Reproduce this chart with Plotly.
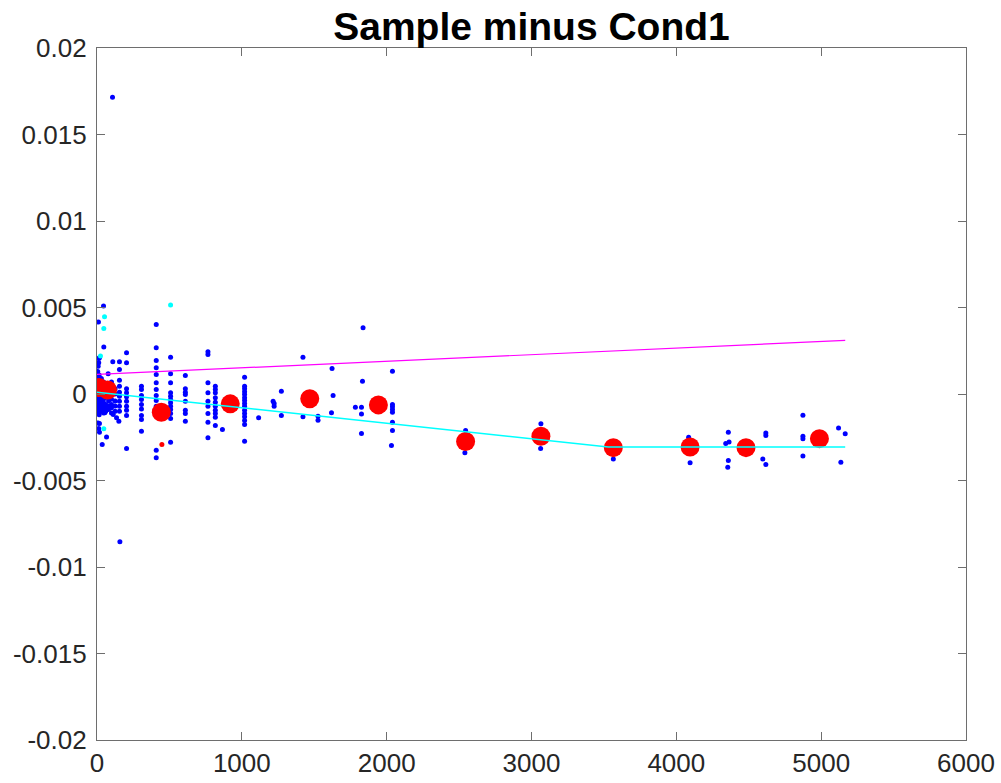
import plotly.graph_objects as go

# ---- blue scatter points (x in x-units, y values) ----
blue_x = []
blue_y = []

def add_col(x, ys):
    for v in ys:
        blue_x.append(x)
        blue_y.append(v)

# dense cluster close to x = 0
cluster = {
    5:   [0.0013, 0.0009, 0.0006, 0.0004, 0.0002, 0.0, -0.0002, -0.0004, -0.0006, -0.0008, -0.001],
    15:  [0.0011, 0.0008, 0.0005, 0.0001, -0.0001, -0.0003, -0.0005, -0.0007, -0.0009, -0.0012],
    30:  [0.0009, 0.0003, -0.0002, -0.0004, -0.0006, -0.0008, -0.001],
    45:  [0.0007, -0.0003, -0.0005, -0.0007, -0.0009, -0.0011],
    60:  [0.0006, -0.0002, -0.0006, -0.0008, -0.001],
    80:  [0.0005, 0.0001, -0.0004, -0.0007, -0.0009],
    100: [0.0007, 0.0004, 0.0001, -0.0003, -0.0006, -0.0008, -0.0011],
    125: [0.0003, 0.0, -0.0004, -0.0007, -0.001],
}
for cx, ys in cluster.items():
    add_col(cx, ys)

# scattered points
extra_x = [45, 10, 17, 12, 12, 8, 77, 47, 54, 8, 12, 17, 17, 66, 36, 107, 109, 112, 135, 151, 158, 866, 1116,
           1216, 1223, 1223, 1273, 1273, 1422, 1422, 1526, 1526, 1623, 1630, 1619, 1837, 1833, 1784, 1826,
           1826, 1826, 2040, 2040, 2040, 2040, 2040, 2040, 2040, 2033, 2545, 2540, 3065, 3063, 3565,
           4085, 4095, 4359, 4341, 4364, 4359, 4355, 4618, 4618, 4597, 4618, 4874, 4874, 4874, 4874,
           5120, 5166, 5136]
extra_y = [0.00508, 0.00416, 0.00209, 0.00205, 0.0018, 0.00161, 0.00117, 0.00271, -0.00109, -0.00167, -0.002,
           -0.00171, -0.00221, -0.00248, -0.00292, 0.01716, 0.00186, -0.00119, -0.00138, -0.00157, -0.00854,
           -0.00205, -0.00138, -0.00042, -0.00055, -0.00071, 0.00016, -0.00124, 0.00213, -0.00132, -0.00128,
           -0.00152, 0.00148, -0.00009, -0.00109, 0.00383, 0.00074, -0.00076, -0.00076, -0.00115, -0.00229,
           0.00132, -0.00061, -0.00074, -0.0009, -0.00105, -0.00163, -0.00211, -0.00298, -0.00211, -0.0034,
           -0.00172, -0.00315, -0.00375, -0.0025, -0.00398, -0.00221, -0.00286, -0.00277, -0.00385, -0.00424,
           -0.00225, -0.0024, -0.00375, -0.00408, -0.00123, -0.00244, -0.00259, -0.00358, -0.00196, -0.0023,
           -0.00395]
blue_x += extra_x
blue_y += extra_y

columns = {
    155:  [0.00186, 0.00142, 0.0008, 0.00045, 0.0001, -0.00013, -0.00042, -0.00071, -0.001],
    204:  [0.00238, 0.00181, 0.0003, 0.00007, -0.00016, -0.00042, -0.00071, -0.00094, -0.00124, -0.00315],
    307:  [0.00045, 0.00026, -0.00009, -0.00032, -0.00061, -0.00086, -0.00124, -0.00148, -0.00215],
    409:  [0.00402, 0.00267, 0.00194, 0.00152, 0.00113, 0.00065, 0.00026, -0.00009, -0.00038, -0.00071,
           -0.00109, -0.00325, -0.00369],
    508:  [0.00213, 0.00117, 0.00065, 0.00007, -0.00013, -0.00032, -0.00051, -0.00071, -0.0009, -0.00113,
           -0.00142, -0.00279],
    610:  [0.00107, 0.0003, 0.0001, -0.00003, -0.00042, -0.00094, -0.00113, -0.00157],
    766:  [0.00244, 0.00229, 0.00065, 0.00007, -0.00042, -0.00071, -0.00113, -0.00163, -0.00253],
    817:  [0.00045, 0.00026, 0.00007, -0.00022, -0.00047, -0.00071, -0.00094, -0.00113, -0.00134, -0.00182],
    1019: [0.00097, 0.00045, 0.0003, 0.00013, -0.00003, -0.00022, -0.00038, -0.00055, -0.00071, -0.00094,
           -0.00113, -0.00132, -0.00153, -0.00177, -0.00273],
}
for cx, ys in columns.items():
    add_col(cx, ys)

# ---- cyan points ----
cyan_x = [508, 52, 47, 24, 47]
cyan_y = [0.00514, 0.00447, 0.00379, 0.00219, -0.00201]

# ---- small red point ----
small_red_x = [448]
small_red_y = [-0.00292]

# ---- red means ----
mean_x = [14, 73, 444, 920, 1469, 1943, 2545, 3065, 3565, 4095, 4481, 4988]
mean_y = [0.00038, 0.00023, -0.00105, -0.00057, -0.00028, -0.00063, -0.00275, -0.00244, -0.0031,
          -0.00306, -0.0031, -0.00258]

# ---- lines ----
mag_x = [0, 5166]
mag_y = [0.00113, 0.0031]
cyanline_x = [0, 1263, 2643, 3530, 5166]
cyanline_y = [0.0001, -0.00103, -0.00229, -0.00306, -0.00306]

x_ticks = [0, 1000, 2000, 3000, 4000, 5000, 6000]
y_ticks = [-0.02, -0.015, -0.01, -0.005, 0, 0.005, 0.01, 0.015, 0.02]
y_tick_text = ["-0.02", "-0.015", "-0.01", "-0.005", "0", "0.005", "0.01", "0.015", "0.02"]

fig = go.Figure()
fig.add_trace(go.Scatter(x=blue_x, y=blue_y, mode="markers",
                         marker=dict(color="#0000FF", size=5, line=dict(width=0))))
fig.add_trace(go.Scatter(x=cyan_x, y=cyan_y, mode="markers",
                         marker=dict(color="#00FFFF", size=5, line=dict(width=0))))
fig.add_trace(go.Scatter(x=small_red_x, y=small_red_y, mode="markers",
                         marker=dict(color="#FF0000", size=5, line=dict(width=0))))
fig.add_trace(go.Scatter(x=mean_x, y=mean_y, mode="markers",
                         marker=dict(color="#FF0000", size=19, line=dict(width=0))))
fig.add_trace(go.Scatter(x=mag_x, y=mag_y, mode="lines", line=dict(color="#FF00FF", width=1.2)))
fig.add_trace(go.Scatter(x=cyanline_x, y=cyanline_y, mode="lines", line=dict(color="#00FFFF", width=1.5)))

axis_common = dict(showgrid=False, zeroline=False, showline=True, linecolor="#6e6e6e", linewidth=1.3,
                   ticks="inside", ticklen=8, tickcolor="#6e6e6e", mirror="ticks", automargin=False,
                   tickfont=dict(family="Liberation Sans, Arial, sans-serif", size=26, color="#262626"))

fig.update_layout(
    width=1001, height=783,
    margin=dict(l=97, r=35, t=48, b=43, autoexpand=False),
    paper_bgcolor="white", plot_bgcolor="white",
    showlegend=False,
    title=dict(text="<b>Sample minus Cond1</b>", x=0.5, xref="paper", xanchor="center",
               y=1 - 26 / 783, yref="container", yanchor="middle",
               font=dict(family="Liberation Sans, Arial, sans-serif", size=39, color="black")),
    xaxis=dict(range=[0, 6000], tickvals=x_ticks, ticktext=[str(v) for v in x_ticks], **axis_common),
    yaxis=dict(range=[-0.02, 0.02], tickvals=y_ticks, ticktext=y_tick_text, ticklabelstandoff=4,
               **axis_common),
)

fig.write_html("out.html")
